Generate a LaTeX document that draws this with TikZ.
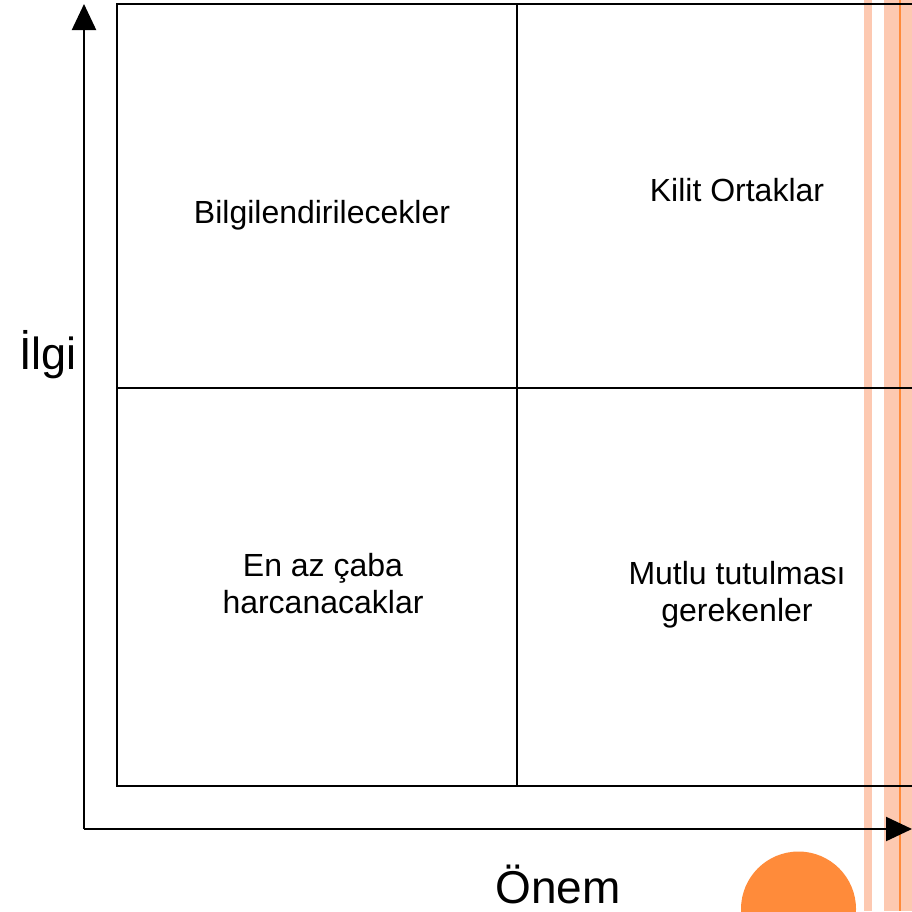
\documentclass[tikz,border=0pt]{standalone}
\usepackage{fontspec}
\setmainfont{Liberation Sans}
\usetikzlibrary{arrows.meta}
\definecolor{peach}{HTML}{FDC9B1}
\definecolor{orng}{HTML}{FF8B3A}
\tikzset{
  gridline/.style={line width=2pt, black},
  axisline/.style={line width=2.2pt, black, -{Triangle[width=24pt,length=26pt]}},
  quad/.style={font=\fontsize{32}{37}\selectfont, align=center, inner sep=0pt},
}
\begin{document}
\begin{tikzpicture}[x=1pt,y=-1pt]
\useasboundingbox (0,0) rectangle (912,911);
% decorative stripes
\fill[peach] (864,0) rectangle (872,911);
\fill[peach] (884,0) rectangle (912,911);
\draw[orng, line width=2pt] (900,0) -- (900,911);
\fill[orng] (798.5,909) circle (57.5);
% grid corners
\coordinate (tl) at (117,4);
\coordinate (tm) at (517,4);
\coordinate (tr) at (914,4);
\coordinate (ml) at (117,388);
\coordinate (mr) at (914,388);
\coordinate (bl) at (117,786);
\coordinate (bm) at (517,786);
\coordinate (br) at (914,786);
\draw[gridline] (tr) -- (tl) -- (bl) -- (br);
\draw[gridline] (tm) -- (bm);
\draw[gridline] (ml) -- (mr);
% axes
\coordinate (origin) at (84,829);
\coordinate (ytip) at (84,4);
\coordinate (xtip) at (912,829);
\draw[axisline] (origin) -- (ytip);
\draw[axisline] (origin) -- (xtip);
% labels
\node[quad] (q1) at (322,215) {Bilgilendirilecekler};
\node[quad] (q2) at (737,190) {Kilit Ortaklar};
\node[quad] (q3) at (323,584) {En az çaba\\harcanacaklar};
\node[quad] (q4) at (737,595) {Mutlu tutulması\\gerekenler};
\node[font=\fontsize{45}{50}\selectfont, inner sep=0pt] (ylab) at (48,355) {İlgi};
\node[font=\fontsize{46}{50}\selectfont, inner sep=0pt] (xlab) at (558,884) {Önem};
\end{tikzpicture}
\end{document}
